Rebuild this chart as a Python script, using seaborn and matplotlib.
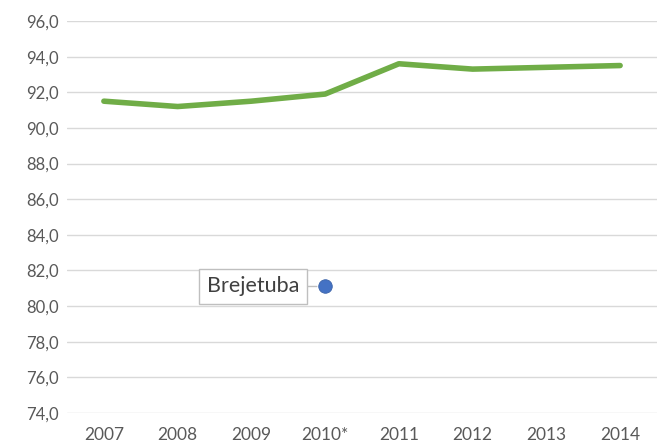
import matplotlib
matplotlib.use("Agg")
import matplotlib.pyplot as plt
import seaborn as sns
import pandas as pd
from matplotlib.ticker import FuncFormatter, MultipleLocator

# dados
anos = ["2007", "2008", "2009", "2010*", "2011", "2012", "2013", "2014"]
valores = [91.5, 91.2, 91.5, 91.9, 93.6, 93.3, 93.4, 93.5]
destaque_ano = "2010*"
destaque_valor = 81.1
destaque_nome = "Brejetuba"

sns.set_theme(style="white")
plt.rcParams["font.family"] = ["Lato", "DejaVu Sans"]

fig = plt.figure(figsize=(6.59, 4.47), dpi=100)
ax = fig.add_axes([67 / 659, 1 - 413 / 447, 590 / 659, 392 / 447])

df = pd.DataFrame({"ano": anos, "valor": valores})
sns.lineplot(data=df, x="ano", y="valor", ax=ax, color="#70AD47",
             linewidth=4, sort=False, solid_capstyle="round")

ponto = pd.DataFrame({"ano": [destaque_ano], "valor": [destaque_valor]})
sns.scatterplot(data=ponto, x="ano", y="valor", ax=ax, color="#4472C4",
                s=95, edgecolor="#3A62A8", linewidth=0.6, zorder=5)

ax.annotate(destaque_nome, xy=(anos.index(destaque_ano), destaque_valor),
            xytext=(-72, 0), textcoords="offset pixels",
            ha="center", va="center", fontsize=15.5, color="#404040",
            bbox=dict(boxstyle="square,pad=0.35", fc="white", ec="#BFBFBF", lw=1),
            arrowprops=dict(arrowstyle="-", color="#BFBFBF", lw=1,
                            shrinkA=0, shrinkB=6))

ax.set_xlim(-0.5, len(anos) - 0.5)
ax.set_ylim(74, 96)
ax.yaxis.set_major_locator(MultipleLocator(2))
ax.yaxis.set_major_formatter(FuncFormatter(lambda v, _: f"{v:.1f}".replace(".", ",")))
ax.grid(axis="y", color="#D9D9D9", linewidth=1)
ax.set_axisbelow(True)
for s in ax.spines.values():
    s.set_visible(False)
ax.tick_params(axis="y", length=0, pad=6, labelsize=12, labelcolor="#595959")
ax.tick_params(axis="x", length=0, pad=10, labelsize=12.5, labelcolor="#595959")
ax.set_xlabel("")
ax.set_ylabel("")

fig.savefig("out.png", dpi=100)
